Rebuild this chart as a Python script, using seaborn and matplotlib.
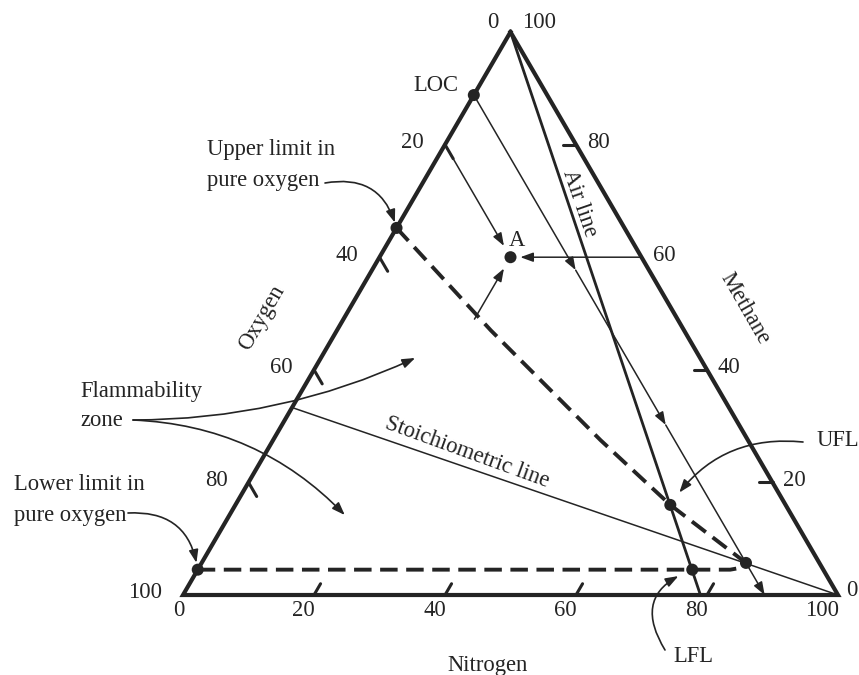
import matplotlib
matplotlib.use("Agg")
import matplotlib.pyplot as plt
import seaborn as sns
import numpy as np

INK = "#242424"
W, H = 859, 675

# ---------------- data (percent; nitrogen = 100 - methane - oxygen) ----------------
tick_values = [0, 20, 40, 60, 80, 100]
tick_labels = ["0", "20", "40", "60", "80", "100"]
oxygen_marks = [20, 40, 60, 80]
methane_marks = [80, 40, 20]
nitrogen_marks = [20, 40, 60, 80]

triangle_methane = [100, 0, 0, 100]
triangle_oxygen = [0, 100, 0, 0]

air_methane = [100, 0]
air_oxygen = [0, 21]
stoich_methane = [33.3, 0]
stoich_oxygen = [66.7, 0]

upper_methane = [65.2, 47.0, 27.5, 16.0, 5.7]
upper_oxygen = [34.8, 29.5, 22.5, 17.6, 11.2]
lower_methane = [4.5, 4.5, 4.5, 4.8, 5.7]
lower_oxygen = [95.5, 20.0, 14.2, 12.6, 11.2]

loc_oxygen = 11.2
loc_arrow_methane = [88.8, 57.7, 30.2, 0.0]

point_names = ["LOC", "upper", "lower", "UFL", "LFL", "nose", "A"]
point_methane = [88.8, 65.2, 4.5, 16.0, 4.5, 5.7, 60.0]
point_oxygen = [11.2, 34.8, 95.5, 17.6, 20.0, 11.2, 20.0]

a_start_methane = [80, 60, 49]
a_start_oxygen = [20, 0, 31]
a_end_methane = [62, 60, 58]
a_end_oxygen = [20, 18.5, 22]

zone_target_methane = [42.1, 14.2]
zone_target_oxygen = [43.5, 68.2]


def cart(m, o):
    m = np.asarray(m, float)
    o = np.asarray(o, float)
    n = 100.0 - m - o
    return n + m / 2.0, m


def fp(x, y):
    return (x, H - y)


sns.set_theme(style="white")
plt.rcParams["font.family"] = ["Liberation Serif", "DejaVu Serif"]
plt.rcParams["text.color"] = INK

fig = plt.figure(figsize=(W / 100, H / 100), dpi=100)
ax = fig.add_axes([0, 0, 1, 1])
ax.set_xlim(-183 / 6.55, (W - 183) / 6.55)
ax.set_ylim((595 - H) / 5.63, 595 / 5.63)
ax.axis("off")

FS = 16.3

# triangle
tx, ty = cart(triangle_methane, triangle_oxygen)
sns.lineplot(x=tx, y=ty, sort=False, estimator=None, ax=ax, color=INK, lw=3.0,
             solid_joinstyle="miter", solid_capstyle="projecting")

# air line and stoichiometric line
x, y = cart(air_methane, air_oxygen)
sns.lineplot(x=x, y=y, sort=False, estimator=None, ax=ax, color=INK, lw=2.0)
x, y = cart(stoich_methane, stoich_oxygen)
sns.lineplot(x=x, y=y, sort=False, estimator=None, ax=ax, color=INK, lw=1.1)

# flammability boundary (dashed)
for mm, oo in [(upper_methane, upper_oxygen), (lower_methane, lower_oxygen)]:
    x, y = cart(mm, oo)
    ax.plot(x, y, color=INK, lw=2.8, linestyle=(0, (4.5, 2.2)), dash_capstyle="butt")

# tick marks
for o in oxygen_marks:
    m0 = 100 - o
    x, y = cart([m0, m0 - 2.5], [o, o])
    ax.plot(x, y, color=INK, lw=2.2)
for m in methane_marks:
    x, y = cart([m, m], [0, 2.0])
    ax.plot(x, y, color=INK, lw=2.2)
for n in nitrogen_marks:
    x, y = cart([0, 2.0], [100 - n, 98 - n])
    ax.plot(x, y, color=INK, lw=2.2)

# tick labels
for v, lab in zip(tick_values, tick_labels):
    # oxygen (left edge)
    xy = cart(100 - v, v)
    off = (-12, 10) if v == 0 else (-21, 2)
    ax.annotate(lab, xy=(float(xy[0]), float(xy[1])), xytext=off, textcoords="offset pixels",
                ha="right", va="center", fontsize=FS)
    # methane (right edge)
    xy = cart(v, 0)
    off = (12, 10) if v == 100 else ((8, 5) if v == 0 else (11, 2))
    ax.annotate(lab, xy=(float(xy[0]), float(xy[1])), xytext=off, textcoords="offset pixels",
                ha="left", va="center", fontsize=FS)
    # nitrogen (bottom edge)
    xy = cart(0, 100 - v)
    ax.annotate(lab, xy=(float(xy[0]), float(xy[1])), xytext=(1, -16), textcoords="offset pixels",
                ha="right", va="center", fontsize=FS)

arrow_kw = dict(arrowstyle="-|>,head_length=0.55,head_width=0.2", color=INK, lw=1.1,
                shrinkA=0, shrinkB=0, mutation_scale=14)

# LOC line with arrows
for m1, m2 in zip(loc_arrow_methane[:-1], loc_arrow_methane[1:]):
    p1 = cart(m1, loc_oxygen)
    p2 = cart(m2, loc_oxygen)
    ax.annotate("", xy=(float(p2[0]), float(p2[1])), xytext=(float(p1[0]), float(p1[1])),
                arrowprops=arrow_kw)

# arrows into point A
for ms, os_, me, oe in zip(a_start_methane, a_start_oxygen, a_end_methane, a_end_oxygen):
    p1 = cart(ms, os_)
    p2 = cart(me, oe)
    ax.annotate("", xy=(float(p2[0]), float(p2[1])), xytext=(float(p1[0]), float(p1[1])),
                arrowprops=arrow_kw)

# points
px, py = cart(point_methane, point_oxygen)
sns.scatterplot(x=px, y=py, ax=ax, s=75, color=INK, edgecolor="none", zorder=6)

# labels
ax.annotate("LOC", xy=(float(px[0]), float(py[0])), xytext=(-38, 10), textcoords="offset pixels",
            ha="center", va="center", fontsize=FS)
ax.annotate("A", xy=(float(px[6]), float(py[6])), xytext=(6, 17), textcoords="offset pixels",
            ha="center", va="center", fontsize=FS)

ax.annotate("Upper limit in\npure oxygen", xy=fp(207, 165), xycoords="figure pixels",
            ha="left", va="center", fontsize=FS, linespacing=1.65)
ax.annotate("Flammability\nzone", xy=fp(80, 406), xycoords="figure pixels",
            ha="left", va="center", fontsize=FS, linespacing=1.55)
ax.annotate("Lower limit in\npure oxygen", xy=fp(14, 500), xycoords="figure pixels",
            ha="left", va="center", fontsize=FS, linespacing=1.65)
ax.annotate("UFL", xy=fp(817, 440), xycoords="figure pixels", ha="left", va="center", fontsize=FS)
ax.annotate("LFL", xy=fp(693, 657), xycoords="figure pixels", ha="center", va="center", fontsize=FS)
ax.annotate("Air line", xy=fp(580, 203), xycoords="figure pixels", ha="center", va="center",
            fontsize=FS, rotation=-71, rotation_mode="anchor")
ax.annotate("Stoichiometric line", xy=fp(467, 452), xycoords="figure pixels", ha="center",
            va="center", fontsize=FS, rotation=-20, rotation_mode="anchor")
ax.annotate("Oxygen", xy=fp(262, 318), xycoords="figure pixels", ha="center", va="center",
            fontsize=FS, rotation=60, rotation_mode="anchor")
ax.annotate("Methane", xy=fp(745, 309), xycoords="figure pixels", ha="center", va="center",
            fontsize=FS, rotation=-60, rotation_mode="anchor")
ax.annotate("Nitrogen", xy=fp(488, 665), xycoords="figure pixels", ha="center", va="center",
            fontsize=FS)

# curved callout arrows
def callout(start, target_xy, rad, shrinkB):
    kw = dict(arrow_kw)
    kw["connectionstyle"] = f"arc3,rad={rad}"
    kw["shrinkB"] = shrinkB
    kw["lw"] = 1.2
    ax.annotate("", xy=target_xy, xytext=fp(*start), textcoords="figure pixels", arrowprops=kw)

callout((325, 183), (float(px[1]), float(py[1])), -0.45, 4)
callout((128, 513), (float(px[2]), float(py[2])), -0.45, 5)
callout((803, 442), (float(px[3]), float(py[3])), 0.3, 11)
callout((665, 650), (float(px[4]), float(py[4])), -0.6, 11)
zx, zy = cart(zone_target_methane, zone_target_oxygen)
callout((133, 420), (float(zx[0]), float(zy[0])), 0.11, 0)
callout((133, 420), (float(zx[1]), float(zy[1])), -0.2, 0)

fig.savefig("out.png", dpi=100, facecolor="white")
